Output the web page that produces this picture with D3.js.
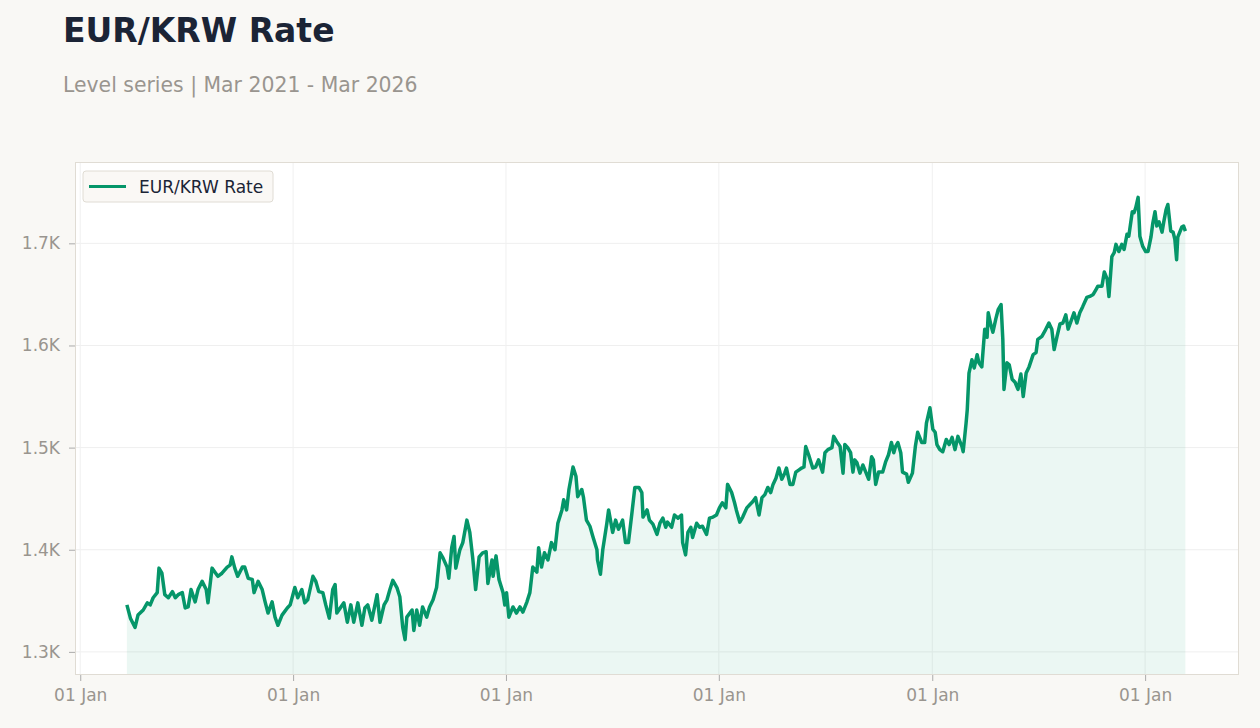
<!DOCTYPE html>
<html>
<head>
<meta charset="utf-8">
<script src="https://cdn.jsdelivr.net/npm/d3@7"></script>
<style>
  body { margin: 0; background: #f9f8f5; font-family: "DejaVu Sans", sans-serif; }
  svg { display: block; }
</style>
</head>
<body>
<svg width="1260" height="728"></svg>
<script>
// EUR/KRW level
const dates = [
  "2021-03-22","2021-03-28","2021-04-05","2021-04-10","2021-04-19","2021-04-26","2021-05-01","2021-05-06","2021-05-13","2021-05-16",
  "2021-05-21","2021-05-26","2021-06-01","2021-06-08","2021-06-13","2021-06-18","2021-06-25","2021-06-30","2021-07-05","2021-07-10",
  "2021-07-17","2021-07-22","2021-07-29","2021-08-05","2021-08-08","2021-08-15","2021-08-20","2021-08-25","2021-09-01","2021-09-10",
  "2021-09-15","2021-09-18","2021-09-23","2021-09-28","2021-10-06","2021-10-10","2021-10-16","2021-10-23","2021-10-26","2021-11-02",
  "2021-11-09","2021-11-14","2021-11-19","2021-11-26","2021-12-01","2021-12-06","2021-12-13","2021-12-22","2021-12-27",
  "2022-01-04","2022-01-09","2022-01-16","2022-01-21","2022-01-26","2022-02-04","2022-02-09","2022-02-14","2022-02-21","2022-02-26",
  "2022-03-04","2022-03-10","2022-03-14","2022-03-17","2022-03-24","2022-03-29","2022-04-04","2022-04-10","2022-04-15","2022-04-22",
  "2022-04-29","2022-05-04","2022-05-09","2022-05-16","2022-05-25","2022-05-30","2022-06-06","2022-06-11","2022-06-16","2022-06-21",
  "2022-06-28","2022-07-03","2022-07-08","2022-07-12","2022-07-15","2022-07-24","2022-07-27","2022-08-01","2022-08-06","2022-08-11",
  "2022-08-18","2022-08-23","2022-08-29","2022-09-04","2022-09-10","2022-09-15","2022-09-22","2022-09-25","2022-09-30","2022-10-04",
  "2022-10-07","2022-10-14","2022-10-19","2022-10-26","2022-10-31","2022-11-05","2022-11-10","2022-11-16","2022-11-22","2022-11-28",
  "2022-12-01","2022-12-08","2022-12-10","2022-12-15","2022-12-20","2022-12-27","2022-12-30",
  "2023-01-02","2023-01-06","2023-01-13","2023-01-19","2023-01-25","2023-01-30","2023-02-06","2023-02-11","2023-02-16","2023-02-23",
  "2023-02-26","2023-03-03","2023-03-08","2023-03-14","2023-03-20","2023-03-26","2023-03-31","2023-04-07","2023-04-10","2023-04-15",
  "2023-04-19","2023-04-26","2023-05-01","2023-05-04","2023-05-11","2023-05-14","2023-05-19","2023-05-25","2023-05-30","2023-06-06",
  "2023-06-07","2023-06-12","2023-06-16","2023-06-23","2023-06-26","2023-07-03","2023-07-08","2023-07-13","2023-07-20","2023-07-25",
  "2023-07-30","2023-08-05","2023-08-10","2023-08-17","2023-08-22","2023-08-24","2023-08-31","2023-09-04","2023-09-10","2023-09-17",
  "2023-09-22","2023-09-27","2023-10-02","2023-10-05","2023-10-12","2023-10-17","2023-10-23","2023-10-29","2023-10-31","2023-11-05",
  "2023-11-09","2023-11-14","2023-11-17","2023-11-24","2023-11-29","2023-12-04","2023-12-11","2023-12-16","2023-12-22","2023-12-28",
  "2024-01-02","2024-01-07","2024-01-13","2024-01-16","2024-01-23","2024-01-28","2024-01-31","2024-02-06","2024-02-11","2024-02-18",
  "2024-02-23","2024-02-28","2024-03-04","2024-03-10","2024-03-15","2024-03-20","2024-03-25","2024-03-30","2024-04-03","2024-04-08",
  "2024-04-13","2024-04-18","2024-04-23","2024-04-26","2024-05-02","2024-05-07","2024-05-12","2024-05-17","2024-05-22","2024-05-26",
  "2024-05-29","2024-06-03","2024-06-10","2024-06-15","2024-06-20","2024-06-27","2024-07-01","2024-07-06","2024-07-13","2024-07-16",
  "2024-07-21","2024-07-27","2024-08-01","2024-08-04","2024-08-09","2024-08-14","2024-08-18","2024-08-21","2024-08-25","2024-08-30",
  "2024-09-04","2024-09-09","2024-09-14","2024-09-19","2024-09-22","2024-09-26","2024-10-01","2024-10-08","2024-10-13","2024-10-18",
  "2024-10-23","2024-10-27","2024-10-30","2024-11-03","2024-11-08","2024-11-11","2024-11-18","2024-11-21","2024-11-28","2024-12-03",
  "2024-12-07","2024-12-14","2024-12-19","2024-12-22","2024-12-28",
  "2025-01-02","2025-01-06","2025-01-09","2025-01-14","2025-01-19","2025-01-25","2025-01-30","2025-02-04","2025-02-09","2025-02-14",
  "2025-02-21","2025-02-23","2025-02-28","2025-03-02","2025-03-05","2025-03-10","2025-03-14","2025-03-19","2025-03-22","2025-03-27",
  "2025-03-29","2025-04-01","2025-04-05","2025-04-07","2025-04-12","2025-04-15","2025-04-20","2025-04-24","2025-04-29","2025-05-02",
  "2025-05-04","2025-05-09","2025-05-13","2025-05-18","2025-05-23","2025-05-28","2025-06-02","2025-06-06","2025-06-11","2025-06-16",
  "2025-06-23","2025-06-28","2025-07-01","2025-07-08","2025-07-13","2025-07-20","2025-07-25","2025-07-29","2025-08-03","2025-08-08",
  "2025-08-13","2025-08-18","2025-08-22","2025-08-29","2025-09-01","2025-09-06","2025-09-11","2025-09-16","2025-09-23","2025-09-28",
  "2025-10-04","2025-10-09","2025-10-12","2025-10-19","2025-10-23","2025-10-28","2025-10-31","2025-11-05","2025-11-09","2025-11-12",
  "2025-11-17","2025-11-22","2025-11-26","2025-12-01","2025-12-04","2025-12-10","2025-12-13","2025-12-16","2025-12-20","2025-12-23",
  "2025-12-28",
  "2026-01-02","2026-01-06","2026-01-11","2026-01-14","2026-01-18","2026-01-21","2026-01-25","2026-01-30","2026-02-02","2026-02-06",
  "2026-02-09","2026-02-14","2026-02-18","2026-02-21","2026-02-24","2026-02-26","2026-03-05","2026-03-08","2026-03-11"
];

const rates = [
  1346,1333,1324,1336,1341,1348,1346,1353,1358,1382,
  1377,1356,1353,1359,1353,1356,1358,1343,1344,1361,
  1349,1361,1369,1361,1348,1382,1378,1374,1377,1383,
  1385,1393,1382,1374,1383,1383,1372,1371,1358,1369,
  1361,1349,1338,1349,1334,1326,1336,1343,1346,
  1363,1353,1361,1348,1351,1374,1369,1359,1358,1346,
  1333,1361,1366,1338,1344,1348,1329,1346,1329,1348,
  1326,1343,1346,1331,1356,1329,1346,1351,1361,1370,
  1363,1354,1324,1312,1334,1341,1321,1341,1326,1344,
  1334,1344,1351,1363,1397,1392,1383,1372,1402,1413,
  1382,1400,1407,1429,1417,1392,1361,1393,1397,1398,
  1367,1390,1374,1394,1371,1358,1346,
  1358,1334,1344,1338,1344,1339,1349,1358,1383,1378,
  1402,1383,1397,1390,1407,1400,1426,1439,1449,1439,
  1459,1481,1472,1452,1459,1451,1429,1423,1413,1400,
  1390,1376,1400,1426,1439,1417,1429,1420,1429,1407,
  1407,1436,1461,1461,1456,1432,1439,1429,1425,1415,
  1426,1431,1422,1427,1422,1434,1431,1434,1407,1395,
  1417,1422,1412,1426,1422,1423,1415,1431,1432,1434,
  1441,1446,1441,1464,1456,1446,1439,1427,1432,1441,
  1444,1447,1451,1434,1451,1454,1461,1456,1464,1470,
  1480,1469,1475,1480,1464,1464,1476,1478,1480,1481,
  1501,1493,1480,1481,1488,1476,1495,1498,1500,1511,
  1506,1501,1475,1503,1500,1495,1476,1488,1485,1475,
  1483,1476,1469,1491,1488,1464,1476,1476,1486,1493,
  1505,1495,1501,1505,1495,1476,1474,1466,1475,1501,
  1515,1505,1505,1524,1539,
  1518,1515,1503,1498,1496,1508,1503,1510,1498,1511,
  1501,1496,1524,1537,1573,1586,1578,1591,1583,1579,
  1594,1616,1608,1632,1619,1613,1626,1635,1640,1606,
  1557,1583,1581,1567,1564,1557,1572,1550,1573,1579,
  1591,1593,1606,1609,1614,1622,1616,1596,1609,1621,
  1622,1630,1616,1627,1632,1622,1632,1638,1647,1648,
  1650,1655,1658,1658,1672,1665,1648,1687,1691,1699,
  1692,1699,1694,1709,1707,1731,1730,1735,1745,1707,
  1697,
  1692,1692,1706,1719,1731,1717,1721,1711,1721,1733,
  1738,1712,1711,1704,1684,1706,1716,1717,1712
];

const seriesName = "EUR/KRW Rate";
const title = "EUR/KRW Rate";
const subtitle = "Level series | Mar 2021 - Mar 2026";
const yTicks = [1300, 1400, 1500, 1600, 1700];

const parse = d3.timeParse("%Y-%m-%d");
const data = dates.map((d, i) => ({ date: parse(d), value: rates[i] }));

const svg = d3.select("svg");
const width = +svg.attr("width");
const height = +svg.attr("height");

const margin = { top: 162, right: 21, bottom: 53, left: 75 };
const innerWidth = width - margin.left - margin.right;
const innerHeight = height - margin.top - margin.bottom;

const lineColor = "#059669";

// titles
svg.append("text")
  .attr("x", 63).attr("y", 42)
  .style("font-size", "33px").style("font-weight", "bold")
  .style("fill", "#1b2436")
  .text(title);

svg.append("text")
  .attr("x", 63).attr("y", 92)
  .style("font-size", "20.4px")
  .style("fill", "#99958f")
  .text(subtitle);

// scales
const xScale = d3.scaleTime()
  .domain([parse("2020-12-23"), parse("2026-06-11")])
  .range([0, innerWidth]);

const vExt = d3.extent(data, d => d.value);
const vPad = (vExt[1] - vExt[0]) * 0.08;
const yScale = d3.scaleLinear()
  .domain([vExt[0] - vPad, vExt[1] + vPad])
  .range([innerHeight, 0]);

const g = svg.append("g")
  .attr("transform", `translate(${margin.left},${margin.top})`);

g.append("rect")
  .attr("width", innerWidth).attr("height", innerHeight)
  .style("fill", "#fff");

const xTicks = xScale.ticks(d3.timeYear.every(1));

// grid
g.append("g").selectAll("line").data(yTicks)
  .enter().append("line")
    .attr("x1", 0).attr("x2", innerWidth)
    .attr("y1", d => yScale(d)).attr("y2", d => yScale(d))
    .style("stroke", "#efefef");

g.append("g").selectAll("line").data(xTicks)
  .enter().append("line")
    .attr("x1", d => xScale(d)).attr("x2", d => xScale(d))
    .attr("y1", 0).attr("y2", innerHeight)
    .style("stroke", "#f0f0f0");

// area + line
const area = d3.area()
  .x(d => xScale(d.date))
  .y0(innerHeight)
  .y1(d => yScale(d.value));

const line = d3.line()
  .x(d => xScale(d.date))
  .y(d => yScale(d.value));

g.append("path").datum(data)
  .attr("d", area)
  .style("fill", lineColor)
  .style("fill-opacity", 0.08);

g.append("path").datum(data)
  .attr("d", line)
  .style("fill", "none")
  .style("stroke", lineColor)
  .style("stroke-width", 3.5)
  .style("stroke-linejoin", "round");

// frame
g.append("rect")
  .attr("x", 0.5).attr("y", 0.5)
  .attr("width", innerWidth - 1).attr("height", innerHeight - 1)
  .style("fill", "none")
  .style("stroke", "#e0dcd4");

// axes
const yAxis = g.append("g")
  .call(d3.axisLeft(yScale).tickValues(yTicks).tickSize(6).tickPadding(9)
    .tickFormat(d => (d / 1000).toFixed(1) + "K"));

const xAxis = g.append("g")
  .attr("transform", `translate(0,${innerHeight})`)
  .call(d3.axisBottom(xScale).tickValues(xTicks).tickSize(6).tickPadding(8)
    .tickFormat(d3.timeFormat("%d %b")));

[yAxis, xAxis].forEach(ax => {
  ax.select(".domain").remove();
  ax.selectAll(".tick line").style("stroke", "#aaa");
  ax.selectAll(".tick text")
    .style("font-family", "DejaVu Sans, sans-serif")
    .style("font-size", "17px")
    .style("fill", "#99958f");
});

// legend
const legend = g.append("g").attr("transform", "translate(8,9)");
legend.append("rect")
  .attr("width", 190).attr("height", 31).attr("rx", 3)
  .style("fill", "#faf8f5")
  .style("stroke", "#e0dcd4");
legend.append("line")
  .attr("x1", 6).attr("x2", 43).attr("y1", 15.5).attr("y2", 15.5)
  .style("stroke", lineColor).style("stroke-width", 3);
legend.append("text")
  .attr("x", 56).attr("y", 21.5)
  .style("font-size", "17px")
  .style("fill", "#1b2436")
  .text(seriesName);
</script>
</body>
</html>
